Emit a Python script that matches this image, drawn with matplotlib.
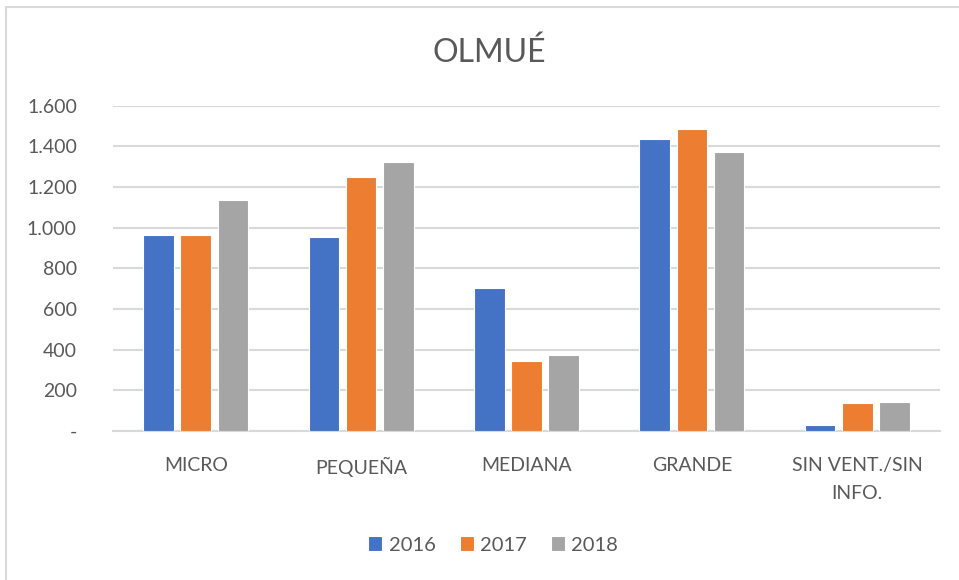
import matplotlib
matplotlib.use("Agg")
import matplotlib.pyplot as plt
import numpy as np
from matplotlib.patches import Rectangle

categories = ["MICRO", "PEQUEÑA", "MEDIANA", "GRANDE", "SIN VENT./SIN\nINFO."]
years = ["2016", "2017", "2018"]
v2016 = [962, 952, 704, 1436, 31]
v2017 = [962, 1248, 345, 1486, 136]
v2018 = [1134, 1322, 376, 1373, 144]
yticks = [0, 200, 400, 600, 800, 1000, 1200, 1400, 1600]
ytick_labels = ["-", "200", "400", "600", "800", "1.000", "1.200", "1.400", "1.600"]
colors = ["#4472C4", "#ED7D31", "#A5A5A5"]

plt.rcParams['font.family'] = ['Lato', 'DejaVu Sans']
txt = "#595959"

fig = plt.figure(figsize=(9.59, 5.8), dpi=100)
fig.patches.append(Rectangle((6/959, -0.1), 1.2, (580 - 7) / 580 + 0.1, transform=fig.transFigure,
                             fill=False, edgecolor="#D9D9D9", linewidth=1.5))
ax = fig.add_axes([113/959, (580-431)/580, (940-113)/959, (431-105.7)/580])

x = np.arange(len(categories))
w = 0.185
off = 0.225
for i, (vals, yr) in enumerate(zip([v2016, v2017, v2018], years)):
    ax.bar(x + (i - 1) * off, vals, width=w, color=colors[i], edgecolor="white",
           linewidth=0.8, label=yr, zorder=3)

ax.set_xlim(-0.5, len(categories) - 0.5)
ax.set_ylim(0, 1600)
ax.set_yticks(yticks)
ax.set_yticklabels(ytick_labels)
ax.set_xticks(x)
ax.set_xticklabels(categories, linespacing=1.75)
ax.tick_params(axis='both', length=0, colors=txt, labelsize=14)
ax.tick_params(axis='x', pad=19)
ax.tick_params(axis='y', pad=26)
for lab in ax.get_yticklabels():
    lab.set_horizontalalignment('right')
ax.grid(axis='y', color="#D9D9D9", linewidth=1.5, zorder=0)
for s in ['top', 'right', 'left']:
    ax.spines[s].set_visible(False)
ax.spines['bottom'].set_color("#D9D9D9")
ax.spines['bottom'].set_linewidth(1.5)

fig.text(489/959, 1 - 53/580, "OLMUÉ", ha='center', va='center', fontsize=23, color=txt)

fig.legend(loc='center', bbox_to_anchor=(493/959, 1 - 545/580), ncol=3, frameon=False,
           fontsize=14.5, handlelength=0.7, handleheight=0.7, handletextpad=0.3,
           columnspacing=1.2, labelcolor=txt)

fig.savefig("out.png", dpi=100)
